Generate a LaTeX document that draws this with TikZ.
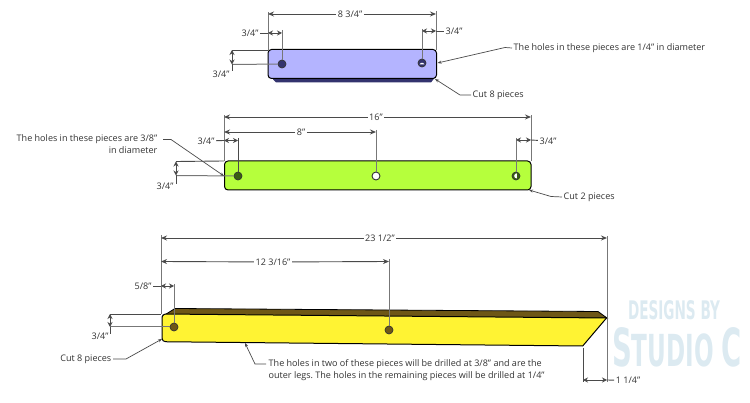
\documentclass[tikz,border=0pt]{standalone}
\usepackage{fontspec}
\usepackage{graphicx}
\setmainfont{Open Sans}
\newfontfamily\wmfont{DejaVu Sans}
\usetikzlibrary{arrows.meta}
\definecolor{txt}{HTML}{333333}
\definecolor{dimgray}{HTML}{4A4A4A}
\definecolor{pblue}{HTML}{B4B4FF}
\definecolor{dblue}{HTML}{33336E}
\definecolor{pgreen}{HTML}{B6FF3C}
\definecolor{dgreen}{HTML}{3A5E12}
\definecolor{pyellow}{HTML}{FFF333}
\definecolor{dbrown}{HTML}{6E5716}
\definecolor{wm}{HTML}{DCEAF1}
\frenchspacing
\tikzset{
 x=1pt,y=-1pt,
 lbl/.style={font=\fontsize{9.05}{12}\selectfont,text=txt,inner sep=1.5pt},
 extline/.style={draw=dimgray!75,line width=1pt},
 dimline/.style={draw=dimgray,line width=0.9pt},
 arrowed/.style={dimline,-{Stealth[length=6pt,width=5pt]}},
 twoway/.style={dimline,{Stealth[length=5pt,width=5pt]}-{Stealth[length=5pt,width=5pt]}},
 leader/.style={draw=dimgray,line width=0.7pt},
 leaderarrow/.style={leader,-{Stealth[length=4pt,width=3pt]}},
 piece/.style={draw=black,line width=1pt,rounded corners=3.5pt},
 hole/.style={circle,draw=black!80,line width=0.7pt,minimum size=8pt,inner sep=0pt},
}
\begin{document}
\begin{tikzpicture}
\useasboundingbox (0,0) rectangle (750,403);

% watermark
\node[text=wm,inner sep=0] (wmA) at (674,310.5) {\resizebox{92pt}{19pt}{\wmfont\bfseries DESIGNS BY}};
\node[text=wm,inner sep=0] (wmB) at (677,347.5) {\resizebox{130pt}{39pt}{\wmfont\bfseries\fontsize{50}{50}\selectfont S\fontsize{42}{42}\selectfont TUDIO \fontsize{50}{50}\selectfont C}};

% ---- blue piece
\fill[dblue] (270,76) -- (276,82.5) -- (431,82.5) -- (436,76) -- cycle;
\draw[piece,fill=pblue] (268,49.5) rectangle (436.5,78.5);
\node[hole,fill=dblue] (b1) at (282,64) {};
\node[hole,fill=dblue] (b2) at (422,63) {};
\fill[white] (419.6,64.4) arc (200:340:2.6) -- cycle;

\coordinate (bL) at (268,50); \coordinate (bR) at (436,50);
\coordinate (bLt) at (268,12); \coordinate (bRt) at (436,11);
\coordinate (bLd) at (268,14); \coordinate (bRd) at (436,14);
\draw[extline] (bLt) -- (bL);
\draw[extline] (bRt) -- (bR);
\node[lbl,fill=white] (b8) at (350,14) {8 3/4"};
\draw[arrowed] (b8) -- (bLd);
\draw[arrowed] (b8) -- (bRd);
% left 3/4
\coordinate (b1t) at (282,30);
\draw[extline] (b1t) -- (b1);
\coordinate (bA1) at (268,33); \coordinate (bA2) at (282,33);
\draw[twoway] (bA1) -- (bA2);
\node[lbl] (b34a) at (250,33) {3/4"};
\draw[dimline] (b34a) -- (bA1);
% right 3/4
\coordinate (b2t) at (422,29);
\draw[extline] (b2t) -- (b2);
\coordinate (bB1) at (422,31); \coordinate (bB2) at (436,31);
\draw[twoway] (bB1) -- (bB2);
\node[lbl] (b34b) at (454,31) {3/4"};
\draw[dimline] (bB2) -- (b34b);
% vertical 3/4
\coordinate (bV1) at (232,50); \coordinate (bV2) at (232,64.5); \coordinate (bV3) at (232,71);
\draw[dimline] (bV1) -- (bL);
\draw[extline] (bV2) -- (b1);
\draw[twoway] (bV1) -- (bV2);
\draw[dimline] (bV2) -- (bV3);
\node[lbl] (b34c) at (221,74) {3/4"};
% leaders
\node[lbl,anchor=west] (bnote) at (512,48) {The holes in these pieces are 1/4" in diameter};
\coordinate (bnoteEl) at (505,47.5); \coordinate (bnoteT) at (437.5,63);
\draw[leaderarrow] (bnote.west) -- (bnoteEl) -- (bnoteT);
\node[lbl,anchor=west] (bcut) at (471,95) {Cut 8 pieces};
\coordinate (bcutE) at (460,95); \coordinate (bcutT) at (435,79);
\draw[leaderarrow] (bcut.west) -- (bcutE) -- (bcutT);

% ---- green piece
\draw[piece,fill=pgreen] (224.5,161) rectangle (531,190);
\node[hole,fill=dgreen] (g1) at (238,176) {};
\node[hole,fill=white,line width=0.9pt] (g2) at (376,176) {};
\node[hole,fill=dgreen] (g3) at (516,176) {};
\fill[white] (516.8,178.5) arc (90:270:2.6) -- cycle;
\coordinate (gL) at (224,161); \coordinate (gR) at (531,161);
\coordinate (gLt) at (224,115); \coordinate (gRt) at (531,115);
\draw[extline] (gLt) -- (gL);
\draw[extline] (gRt) -- (gR);
\coordinate (gLa) at (224,117); \coordinate (gRa) at (531,117);
\node[lbl,fill=white] (g16) at (376,117) {16"};
\draw[arrowed] (g16) -- (gLa);
\draw[arrowed] (g16) -- (gRa);
\coordinate (g2t) at (376,130);
\draw[extline] (g2t) -- (g2);
\coordinate (gLb) at (224,132); \coordinate (gMb) at (376,132);
\node[lbl,fill=white] (g8) at (301,132) {8"};
\draw[arrowed] (g8) -- (gLb);
\draw[arrowed] (g8) -- (gMb);
\coordinate (g1t) at (238,138);
\draw[dimline] (g1t) -- (g1);
\coordinate (gA1) at (224,140.5); \coordinate (gA2) at (238,140.5);
\draw[twoway] (gA1) -- (gA2);
\node[lbl] (g34a) at (206,141) {3/4"};
\draw[dimline] (g34a) -- (gA1);
\coordinate (g3t) at (516,138);
\draw[extline] (g3t) -- (g3);
\coordinate (gB1) at (516,140); \coordinate (gB2) at (531,140);
\draw[twoway] (gB1) -- (gB2);
\node[lbl] (g34b) at (548,141) {3/4"};
\draw[dimline] (gB2) -- (g34b);
\coordinate (gV1) at (176,161.5); \coordinate (gV2) at (176,175.5); \coordinate (gV3) at (176,184);
\draw[dimline] (gV1) -- (gL);
\draw[extline] (gV2) -- (g1);
\draw[twoway] (gV1) -- (gV2);
\draw[dimline] (gV2) -- (gV3);
\node[lbl] (g34c) at (165,186) {3/4"};
\node[lbl,align=right,anchor=north east] (gnote) at (159,133) {The holes in these pieces are 3/8"\\in diameter};
\coordinate (gnoteS) at (163,139.5); \coordinate (gnoteE) at (171,139.5); \coordinate (gnoteT) at (224,176);
\draw[leaderarrow] (gnoteS) -- (gnoteE) -- (gnoteT);
\node[lbl,anchor=west] (gcut) at (562,197) {Cut 2 pieces};
\coordinate (gcutE) at (551,196.5); \coordinate (gcutT) at (529,190);
\draw[leaderarrow] (gcut.west) -- (gcutE) -- (gcutT);

% ---- yellow piece
\fill[dbrown,draw=black,line width=0.8pt] (163,316) -- (175,308.5) -- (598,311.5) -- (607,318) -- cycle;
\fill[pyellow] (165,314) -- (606.5,318) -- (582.7,346) -- (165,341.7) -- (162,338.5) -- (162,317) -- cycle;
\draw[black,line width=1pt,rounded corners=3.5pt] (606.5,318) -- (162,314) -- (162,341.7) -- (582.7,346);
\draw[black,line width=1pt,line cap=round] (582.7,346) -- (606.5,318);
\node[hole,fill=dbrown] (y1) at (174,327) {};
\node[hole,fill=dbrown] (y2) at (389,330) {};
\coordinate (yL) at (161,314); \coordinate (yLt) at (161,235);
\coordinate (yR) at (607,318); \coordinate (yRt) at (607,236); \coordinate (yRb) at (607,382);
\draw[extline] (yLt) -- (yL);
\draw[extline] (yRt) -- (yR);
\draw[extline] (yR) -- (yRb);
\coordinate (yLa) at (161,238); \coordinate (yRa) at (607,238);
\node[lbl,fill=white] (y23) at (380,238) {23 1/2"};
\draw[arrowed] (y23) -- (yLa);
\draw[arrowed] (y23) -- (yRa);
\coordinate (y2t) at (389,259);
\draw[extline] (y2t) -- (y2);
\coordinate (yLb) at (161,261.5); \coordinate (yMb) at (389,261.5);
\node[lbl,fill=white] (y12) at (273,262) {12 3/16"};
\draw[arrowed] (y12) -- (yLb);
\draw[arrowed] (y12) -- (yMb);
\coordinate (y1t) at (174,284);
\draw[extline] (y1t) -- (y1);
\coordinate (yA1) at (161,286); \coordinate (yA2) at (174,286);
\draw[twoway] (yA1) -- (yA2);
\node[lbl] (y58) at (143,286) {5/8"};
\draw[dimline] (y58) -- (yA1);
\coordinate (yV1) at (110,314); \coordinate (yV2) at (110,327); \coordinate (yV3) at (110,334);
\draw[dimline] (yV1) -- (yL);
\draw[extline] (yV2) -- (y1);
\draw[twoway] (yV1) -- (yV2);
\draw[dimline] (yV2) -- (yV3);
\node[lbl] (y34) at (100,336) {3/4"};
\node[lbl,anchor=east] (ycut) at (113,359) {Cut 8 pieces};
\coordinate (ycutE) at (126,359); \coordinate (ycutT) at (162,339);
\draw[leaderarrow] (ycut.east) -- (ycutE) -- (ycutT);
\node[lbl,anchor=north west,align=left] (ynote) at (267,357.5) {The holes in two of these pieces will be drilled at 3/8" and are the\\outer legs. The holes in the remaining pieces will be drilled at 1/4"};
\coordinate (ynoteS) at (266,364); \coordinate (ynoteE) at (255,364); \coordinate (ynoteT) at (245,343);
\draw[leaderarrow] (ynoteS) -- (ynoteE) -- (ynoteT);
\coordinate (yC) at (583,348); \coordinate (yCb) at (583,382);
\draw[dimline] (yC) -- (yCb);
\coordinate (yD1) at (583,380); \coordinate (yD2) at (607,380);
\draw[twoway] (yD1) -- (yD2);
\node[lbl] (y114) at (628,380.5) {1 1/4"};
\draw[dimline] (yD2) -- (y114);
\end{tikzpicture}
\end{document}
